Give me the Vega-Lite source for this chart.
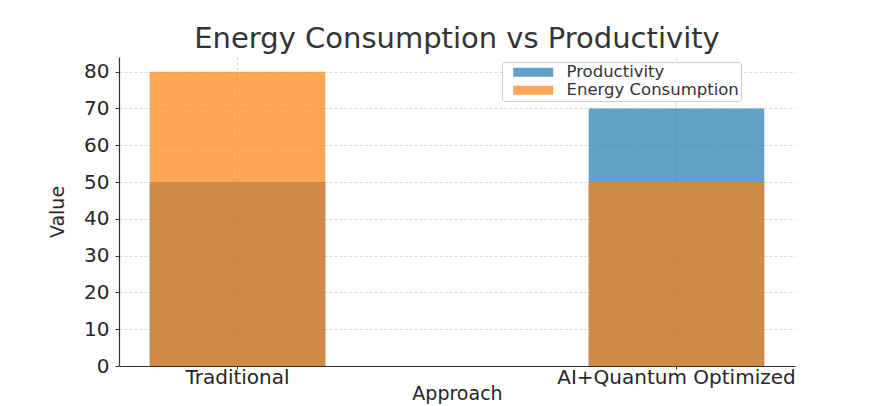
{
  "$schema": "https://vega.github.io/schema/vega-lite/v6.json",
  "width": 676,
  "height": 309,
  "autosize": {"type": "none"},
  "padding": {"left": 119, "top": 57, "right": 75, "bottom": 40},
  "background": "#ffffff",
  "title": {
    "text": "Energy Consumption vs Productivity",
    "font": "DejaVu Sans",
    "fontSize": 29,
    "fontWeight": "normal",
    "color": "#333333",
    "anchor": "middle",
    "baseline": "alphabetic",
    "offset": -20
  },
  "data": {
    "values": [
      {"approach": "Traditional", "metric": "Productivity", "value": 50},
      {"approach": "AI+Quantum Optimized", "metric": "Productivity", "value": 70},
      {"approach": "Traditional", "metric": "Energy Consumption", "value": 80},
      {"approach": "AI+Quantum Optimized", "metric": "Energy Consumption", "value": 50}
    ]
  },
  "mark": {"type": "bar", "opacity": 0.7},
  "encoding": {
    "x": {
      "field": "approach",
      "type": "nominal",
      "sort": ["Traditional", "AI+Quantum Optimized"],
      "scale": {"paddingInner": 0.6, "paddingOuter": 0.07},
      "axis": {
        "title": "Approach",
        "labelAngle": 0,
        "labelLimit": 400,
        "bandPosition": 0.5,
        "grid": true,
        "gridDash": [3, 2],
        "gridColor": "#d0d0d0",
        "gridWidth": 0.8,
        "tickSize": 3,
        "labelPadding": -2,
        "titlePadding": -3
      }
    },
    "y": {
      "field": "value",
      "type": "quantitative",
      "stack": null,
      "scale": {"domain": [0, 84], "nice": false, "zero": true},
      "axis": {
        "title": "Value",
        "values": [0, 10, 20, 30, 40, 50, 60, 70, 80],
        "grid": true,
        "gridDash": [3, 2],
        "gridColor": "#d0d0d0",
        "gridWidth": 0.8,
        "tickSize": 4,
        "labelPadding": 6,
        "titlePadding": 16
      }
    },
    "color": {
      "field": "metric",
      "type": "nominal",
      "scale": {
        "domain": ["Productivity", "Energy Consumption"],
        "range": ["#1f77b4", "#ff7f0e"]
      },
      "legend": {
        "title": null,
        "orient": "none",
        "legendX": 383,
        "legendY": 5,
        "symbolType": "M-4,-0.9H4V0.9H-4Z",
        "symbolSize": 100,
        "symbolOpacity": 0.7,
        "symbolStrokeWidth": 0,
        "symbolOffset": 21,
        "labelOffset": 25,
        "labelFontSize": 16.5,
        "labelLimit": 400,
        "labelFont": "DejaVu Sans",
        "labelColor": "#333333",
        "rowPadding": 1,
        "padding": 2,
        "strokeColor": "#cccccc",
        "fillColor": "#ffffff",
        "cornerRadius": 3
      }
    }
  },
  "config": {
    "view": {"stroke": null},
    "axis": {
      "labelFont": "DejaVu Sans",
      "titleFont": "DejaVu Sans",
      "labelFontSize": 20,
      "titleFontSize": 19,
      "titleFontWeight": "normal",
      "labelColor": "#262626",
      "titleColor": "#262626",
      "domainColor": "#333333",
      "domainWidth": 1.2,
      "tickColor": "#333333"
    }
  }
}
